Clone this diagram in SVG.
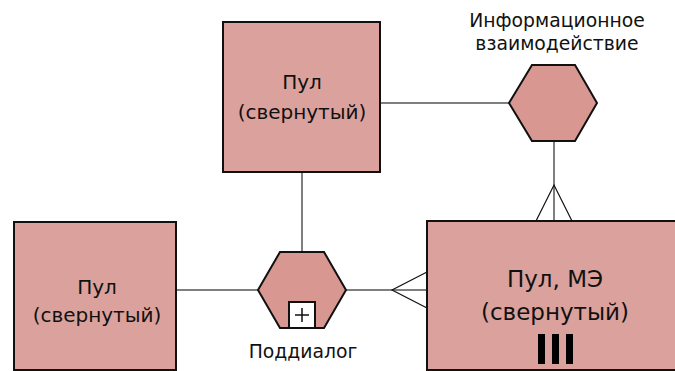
<svg xmlns="http://www.w3.org/2000/svg" width="675" height="371" viewBox="0 0 675 371">
<style>
.box{fill:#dba19d;stroke:#111;stroke-width:2}
.hex{fill:#d99792;stroke:#111;stroke-width:2}
.conn{stroke:#555;stroke-width:1.5;fill:none}
.crow{stroke:#111;stroke-width:1.2;fill:none}
text{font-family:"DejaVu Sans","Liberation Sans",sans-serif;fill:#111;text-anchor:middle}
.t{font-size:20px}
.tb{font-size:23px}
.lbl{font-size:18.8px}
</style>
<rect width="675" height="371" fill="#fff"/>
<g id="connectors">
<line class="conn" x1="380" y1="103" x2="509" y2="103"/>
<line class="conn" x1="302" y1="172" x2="302" y2="252"/>
<line class="conn" x1="176" y1="290" x2="258" y2="290"/>
<line class="conn" x1="346" y1="290" x2="427" y2="290"/>
<line class="conn" x1="554" y1="141" x2="554" y2="221"/>
<polyline class="crow" points="427,272 392,290 427,308"/>
<polyline class="crow" points="536,221 554,185 572,221"/>
</g>
<g id="pool-top">
<rect class="box" x="223" y="22" width="157" height="150"/>
<text class="t" x="302" y="89">Пул</text>
<text class="t" x="302" y="119">(свернутый)</text>
</g>
<g id="pool-left">
<rect class="box" x="14" y="222" width="162" height="148"/>
<text class="t" x="97" y="294">Пул</text>
<text class="t" x="97" y="322">(свернутый)</text>
</g>
<g id="pool-me">
<rect class="box" x="427" y="221" width="256" height="149"/>
<text class="tb" x="555" y="287">Пул, МЭ</text>
<text class="tb" x="555" y="320">(свернутый)</text>
<rect x="538" y="334" width="7" height="30" fill="#000"/>
<rect x="552" y="334" width="7" height="30" fill="#000"/>
<rect x="566" y="334" width="7" height="30" fill="#000"/>
</g>
<g id="info-interaction">
<polygon class="hex" points="509,103 532,65 575,65 597,103 575,141 532,141"/>
<text class="lbl" x="557" y="27">Информационное</text>
<text class="lbl" x="557" y="50">взаимодействие</text>
</g>
<g id="subdialog">
<polygon class="hex" points="258,290 280,252 324,252 346,290 324,328 280,328"/>
<rect x="289" y="302" width="26" height="26" fill="#fff" stroke="#111" stroke-width="2"/>
<path d="M295,315 H309 M302,308 V322" stroke="#111" stroke-width="1.5"/>
<text class="lbl" x="303" y="358">Поддиалог</text>
</g>
</svg>
